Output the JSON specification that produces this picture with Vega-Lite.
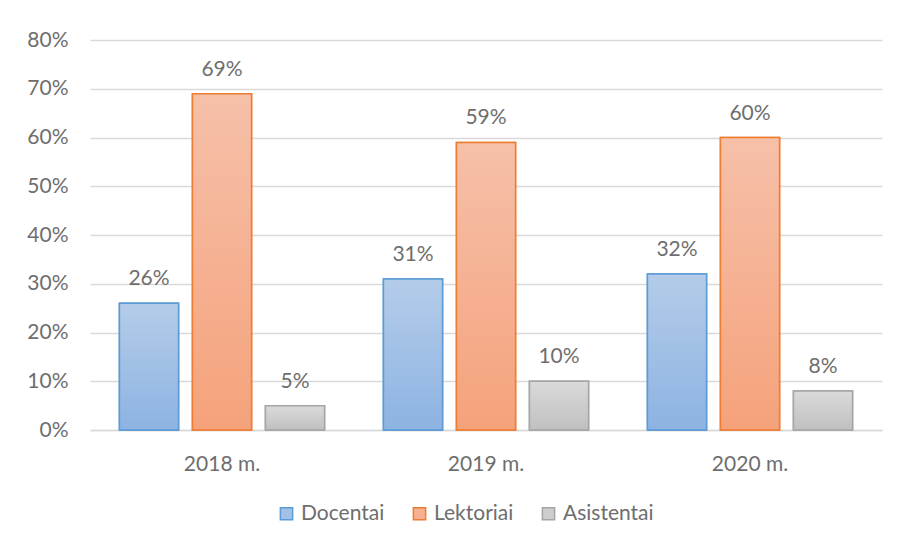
{
  "$schema": "https://vega.github.io/schema/vega-lite/v6.json",
  "width": 792,
  "height": 390,
  "autosize": {"type": "none"},
  "padding": {"left": 90, "top": 40, "right": 18, "bottom": 115},
  "background": "white",
  "config": {
    "view": {"stroke": null},
    "font": "Lato",
    "axis": {"labelFont": "Lato", "labelFontSize": 21, "labelColor": "#6e6e6e", "title": null},
    "legend": {"labelFont": "Lato", "labelFontSize": 21, "labelColor": "#6e6e6e"}
  },
  "data": {
    "values": [
      {"year": "2018 m.", "series": "Docentai", "value": 0.26},
      {"year": "2018 m.", "series": "Lektoriai", "value": 0.69},
      {"year": "2018 m.", "series": "Asistentai", "value": 0.05},
      {"year": "2019 m.", "series": "Docentai", "value": 0.31},
      {"year": "2019 m.", "series": "Lektoriai", "value": 0.59},
      {"year": "2019 m.", "series": "Asistentai", "value": 0.10},
      {"year": "2020 m.", "series": "Docentai", "value": 0.32},
      {"year": "2020 m.", "series": "Lektoriai", "value": 0.60},
      {"year": "2020 m.", "series": "Asistentai", "value": 0.08}
    ]
  },
  "encoding": {
    "x": {
      "field": "year", "type": "nominal",
      "scale": {"paddingInner": 0.223, "paddingOuter": 0.1115},
      "axis": {"labelAngle": 0, "ticks": false, "domainColor": "#d9d9d9", "domainWidth": 1.5, "labelPadding": 23, "grid": false}
    },
    "xOffset": {
      "field": "series", "type": "nominal",
      "sort": ["Docentai", "Lektoriai", "Asistentai"],
      "scale": {"domain": ["Docentai", "Lektoriai", "Asistentai"], "paddingInner": 0.19, "paddingOuter": 0}
    },
    "y": {
      "field": "value", "type": "quantitative",
      "scale": {"domain": [0, 0.8], "nice": false},
      "axis": {"format": ".0%", "values": [0, 0.1, 0.2, 0.3, 0.4, 0.5, 0.6, 0.7, 0.8], "domain": false, "ticks": false, "gridColor": "#d9d9d9", "gridWidth": 1.5, "labelPadding": 22}
    }
  },
  "layer": [
    {
      "mark": {"type": "bar", "strokeWidth": 1.5},
      "encoding": {
        "fill": {
          "field": "series", "type": "nominal",
          "sort": ["Docentai", "Lektoriai", "Asistentai"],
          "scale": {"domain": ["Docentai", "Lektoriai", "Asistentai"], "range": ["#a3c1e6", "#f5b192", "#cdcdcd"]},
          "legend": {
            "title": null, "orient": "none", "direction": "horizontal",
            "legendX": 186, "legendY": 463, "symbolType": "square", "symbolSize": 150,
            "symbolStrokeWidth": 1.5, "columnPadding": 24, "labelOffset": 4
          }
        },
        "stroke": {
          "field": "series", "type": "nominal",
          "sort": ["Docentai", "Lektoriai", "Asistentai"],
          "scale": {"domain": ["Docentai", "Lektoriai", "Asistentai"], "range": ["#5b9bd5", "#ed7d31", "#a5a5a5"]},
          "legend": {
            "title": null, "orient": "none", "direction": "horizontal",
            "legendX": 186, "legendY": 463, "symbolType": "square", "symbolSize": 150,
            "symbolStrokeWidth": 1.5, "columnPadding": 24, "labelOffset": 4
          }
        }
      }
    },
    {
      "transform": [{"filter": "datum.series === 'Docentai'"}],
      "mark": {"type": "bar", "strokeWidth": 1.5, "stroke": "#5b9bd5",
        "fill": {"gradient": "linear", "x1": 0, "y1": 0, "x2": 0, "y2": 1, "stops": [{"offset": 0, "color": "#b4cce9"}, {"offset": 1, "color": "#8db3e2"}]}},
      "encoding": {}
    },
    {
      "transform": [{"filter": "datum.series === 'Lektoriai'"}],
      "mark": {"type": "bar", "strokeWidth": 1.5, "stroke": "#ed7d31",
        "fill": {"gradient": "linear", "x1": 0, "y1": 0, "x2": 0, "y2": 1, "stops": [{"offset": 0, "color": "#f6c0a9"}, {"offset": 1, "color": "#f5a27b"}]}},
      "encoding": {}
    },
    {
      "transform": [{"filter": "datum.series === 'Asistentai'"}],
      "mark": {"type": "bar", "strokeWidth": 1.5, "stroke": "#a5a5a5",
        "fill": {"gradient": "linear", "x1": 0, "y1": 0, "x2": 0, "y2": 1, "stops": [{"offset": 0, "color": "#dadada"}, {"offset": 1, "color": "#c0c0c0"}]}},
      "encoding": {}
    },
    {
      "mark": {"type": "text", "baseline": "middle", "dy": -24, "fontSize": 21, "color": "#6e6e6e", "font": "Lato"},
      "encoding": {
        "text": {"field": "value", "type": "quantitative", "format": ".0%"}
      }
    }
  ]
}
